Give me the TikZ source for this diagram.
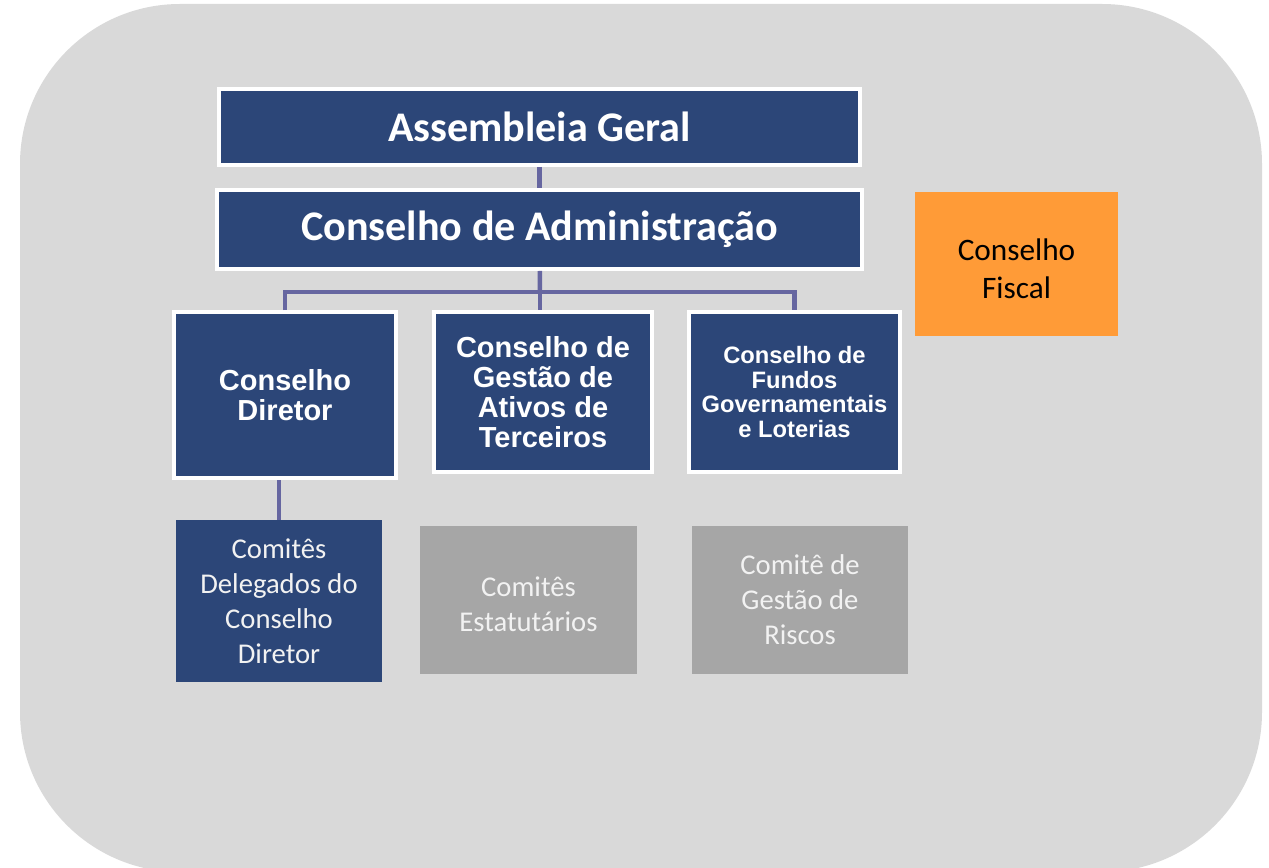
\documentclass[tikz,border=0pt]{standalone}
\usepackage{fontspec}
\setmainfont{Carlito}
\newfontfamily\arialfont{Liberation Sans}
\usepackage{xcolor}
\usetikzlibrary{positioning}

\definecolor{navy}{RGB}{44,70,120}
\definecolor{linkc}{RGB}{102,102,160}
\definecolor{bggray}{RGB}{217,217,217}
\definecolor{boxgray}{RGB}{166,166,166}
\definecolor{fiscalc}{RGB}{255,155,55}
\definecolor{softwhite}{RGB}{242,242,242}

\begin{document}
\begin{tikzpicture}[
		% GLOBAL CFG (one unit = one pixel of the reference)
		x=0.02cm, y=-0.02cm,
		% Styles
		top/.style={% For the two top boxes
			rectangle,
			draw=white,
			line width=0.08cm,
			fill=navy,
			text=white,
			font=\bfseries\fontsize{24}{28}\selectfont,
		},
		board/.style={% For the three councils
			rectangle,
			draw=white,
			line width=0.08cm,
			fill=navy,
			text=white,
			align=center,
			font=\arialfont\bfseries\fontsize{16.5}{17}\selectfont,
		},
		committee/.style={% For the committees below
			rectangle,
			fill=boxgray,
			text=softwhite,
			align=center,
			font=\fontsize{16.3}{20}\selectfont,
		},
		link/.style={% Connecting lines
			draw=linkc,
			line width=0.09cm,
		},
		]
		\useasboundingbox (0,0) rectangle (1269,868);
		% Draw the background
		\fill [bggray, rounded corners=3.2cm] (20,4) rectangle (1262,872);
		
		% Draw the top boxes
		\node [top, minimum width=12.82cm, minimum height=1.52cm] (ag) at (539.5,127) {Assembleia Geral};
		\node [top, minimum width=12.9cm, minimum height=1.58cm] (cda) at (539.5,229.5) {Conselho de Administração};
		
		% Draw the councils
		\node [board, minimum width=4.44cm, minimum height=3.32cm] (cd) at (285,395) {Conselho\\Diretor};
		\node [board, minimum width=4.36cm, minimum height=3.2cm] (cg) at (543,392) {Conselho de\\Gestão de\\Ativos de\\Terceiros};
		\node [board, minimum width=4.22cm, minimum height=3.2cm, font=\arialfont\bfseries\fontsize{13.5}{14.2}\selectfont] (cf) at (794.5,392) {Conselho de\\Fundos\\Governamentais\\e Loterias};
		\node [rectangle, fill=fiscalc, minimum width=4.06cm, minimum height=2.88cm, align=center, font=\fontsize{17.8}{21.6}\selectfont] (fiscal) at (1016.5,264) {\rule{0pt}{18pt}Conselho\\Fiscal};
		
		% Draw the committees
		\node [committee, fill=navy, minimum width=4.12cm, minimum height=3.24cm] (cdel) at (279,601) {Comitês\\Delegados do\\Conselho\\Diretor};
		\node [committee, minimum width=4.34cm, minimum height=2.96cm] (cest) at (528.5,600) {\rule{0pt}{16.5pt}Comitês\\Estatutários};
		\node [committee, minimum width=4.32cm, minimum height=2.96cm] (crisk) at (800,600) {Comitê de\\Gestão de\\Riscos};
		
		% Connecting all
		\coordinate (bus) at (540,292);
		\draw [link] (ag) -- (cda);
		\draw [link] (cda) -- (bus);
		\draw [link] (cd.north) |- (bus) -| (cf.north);
		\draw [link] (bus) -- (cg.north -| bus);
		\draw [link] (cdel.north) -- (cdel.north |- cd.south);
		
	\end{tikzpicture}
\end{document}
